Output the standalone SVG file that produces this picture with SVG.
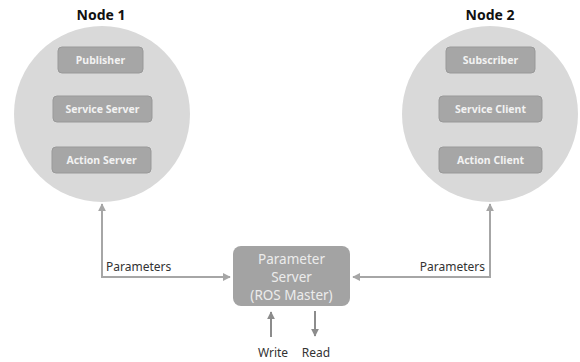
<svg xmlns="http://www.w3.org/2000/svg" width="580" height="362" viewBox="0 0 580 362">
<defs>
<style>
.node-circle{fill:#d9d9d9;}
.box{fill:#a6a6a6;stroke:#999;stroke-width:1;}
.boxtxt{font-family:"Noto Sans","Open Sans",sans-serif;font-weight:bold;font-size:10.5px;fill:#f2f2f2;text-anchor:middle;}
.title{font-family:"Noto Sans","Open Sans",sans-serif;font-weight:bold;font-size:14px;fill:#111;text-anchor:middle;}
.lbl{font-family:"Noto Sans","Open Sans",sans-serif;font-size:12px;fill:#333;}
.srvtxt{font-family:"Noto Sans","Open Sans",sans-serif;font-size:13.5px;fill:#ececec;text-anchor:middle;}
.conn{fill:none;stroke:#a6a6a6;stroke-width:2;}
.conn2{fill:none;stroke:#8c8c8c;stroke-width:2;}
</style>
<marker id="ah" viewBox="0 0 10 10" refX="9" refY="5" markerWidth="4" markerHeight="4" orient="auto-start-reverse">
<path d="M0,0 L10,5 L0,10 z" fill="#a6a6a6"/>
</marker>
<marker id="ah2" viewBox="0 0 10 10" refX="9" refY="5" markerWidth="4" markerHeight="4" orient="auto-start-reverse">
<path d="M0,0 L10,5 L0,10 z" fill="#8c8c8c"/>
</marker>
</defs>
<rect width="580" height="362" fill="#ffffff"/>
<g id="node1">
<text class="title" x="101" y="20">Node 1</text>
<circle class="node-circle" cx="102" cy="114" r="88"/>
<rect class="box" x="58" y="47" width="85" height="26" rx="4"/>
<text class="boxtxt" x="100.5" y="64">Publisher</text>
<rect class="box" x="53" y="96" width="99" height="26" rx="4"/>
<text class="boxtxt" x="102.5" y="113">Service Server</text>
<rect class="box" x="52" y="147" width="99" height="26" rx="4"/>
<text class="boxtxt" x="101.5" y="164">Action Server</text>
</g>
<g id="node2">
<text class="title" x="490" y="20">Node 2</text>
<circle class="node-circle" cx="490" cy="114" r="88"/>
<rect class="box" x="446" y="47" width="89" height="26" rx="4"/>
<text class="boxtxt" x="490.5" y="64">Subscriber</text>
<rect class="box" x="439" y="96" width="103" height="26" rx="4"/>
<text class="boxtxt" x="490.5" y="113">Service Client</text>
<rect class="box" x="439" y="147" width="103" height="26" rx="4"/>
<text class="boxtxt" x="490.5" y="164">Action Client</text>
</g>
<g id="param-server">
<rect x="233" y="246" width="117" height="60" rx="8" fill="#a3a3a3"/>
<text class="srvtxt" x="291.5" y="264">Parameter</text>
<text class="srvtxt" x="291.5" y="282">Server</text>
<text class="srvtxt" x="291.5" y="300">(ROS Master)</text>
</g>
<g id="connectors">
<path class="conn" d="M230,277 L102,277 L102,204" marker-start="url(#ah)" marker-end="url(#ah)"/>
<path class="conn" d="M353,277 L490,277 L490,204" marker-start="url(#ah)" marker-end="url(#ah)"/>
<path class="conn2" d="M271,337 L271,312" marker-end="url(#ah2)"/>
<path class="conn2" d="M315,311 L315,336" marker-end="url(#ah2)"/>
</g>
<g id="labels">
<text class="lbl" x="106" y="271">Parameters</text>
<text class="lbl" x="485" y="271" text-anchor="end">Parameters</text>
<text class="lbl" x="273" y="357" text-anchor="middle">Write</text>
<text class="lbl" x="316" y="357" text-anchor="middle">Read</text>
</g>
</svg>
